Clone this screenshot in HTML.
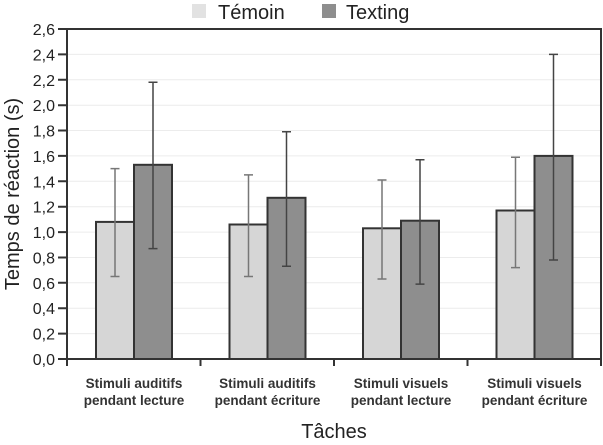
<!DOCTYPE html><html><head><meta charset="utf-8"><style>body{margin:0;background:#fff}svg{display:block;font-family:"Liberation Sans",sans-serif}</style></head><body>
<svg width="603" height="445" viewBox="0 0 603 445">
<g stroke="#ececec" stroke-width="1">
<line x1="67" x2="601" y1="54.4" y2="54.4"/><line x1="67" x2="601" y1="79.8" y2="79.8"/><line x1="67" x2="601" y1="105.2" y2="105.2"/><line x1="67" x2="601" y1="130.5" y2="130.5"/><line x1="67" x2="601" y1="155.9" y2="155.9"/><line x1="67" x2="601" y1="181.3" y2="181.3"/><line x1="67" x2="601" y1="206.7" y2="206.7"/><line x1="67" x2="601" y1="232.1" y2="232.1"/><line x1="67" x2="601" y1="257.5" y2="257.5"/><line x1="67" x2="601" y1="282.8" y2="282.8"/><line x1="67" x2="601" y1="308.2" y2="308.2"/><line x1="67" x2="601" y1="333.6" y2="333.6"/>
</g>
<g stroke="#333" stroke-width="2">
<rect x="96" y="221.9" width="38" height="137.1" fill="#d6d6d6"/><rect x="134" y="164.8" width="38" height="194.2" fill="#8e8e8e"/>
<rect x="229.5" y="224.5" width="38" height="134.5" fill="#d6d6d6"/><rect x="267.5" y="197.8" width="38" height="161.2" fill="#8e8e8e"/>
<rect x="363" y="228.3" width="38" height="130.7" fill="#d6d6d6"/><rect x="401" y="220.7" width="38" height="138.3" fill="#8e8e8e"/>
<rect x="496.5" y="210.5" width="38" height="148.5" fill="#d6d6d6"/><rect x="534.5" y="155.9" width="38" height="203.1" fill="#8e8e8e"/>
</g>
<g stroke="#777" stroke-width="1.5" fill="none">
<path d="M115 168.6V276.5M110.5 168.6h9M110.5 276.5h9"/>
<path d="M248.5 174.9V276.5M244 174.9h9M244 276.5h9"/>
<path d="M382 180V279M377.5 180h9M377.5 279h9"/>
<path d="M515.5 157.2V267.6M511 157.2h9M511 267.6h9"/>
</g>
<g stroke="#444" stroke-width="1.5" fill="none">
<path d="M153 82.3V248.6M148.5 82.3h9M148.5 248.6h9"/>
<path d="M286.5 131.8V266.3M282 131.8h9M282 266.3h9"/>
<path d="M420 159.7V284.1M415.5 159.7h9M415.5 284.1h9"/>
<path d="M553.5 54.4V260M549 54.4h9M549 260h9"/>
</g>
<path d="M67 29H601V359H67Z" fill="none" stroke="#333" stroke-width="2"/>
<g stroke="#333" stroke-width="2">
<path d="M58 29h9M58 54.4h9M58 79.8h9M58 105.2h9M58 130.5h9M58 155.9h9M58 181.3h9M58 206.7h9M58 232.1h9M58 257.5h9M58 282.8h9M58 308.2h9M58 333.6h9M58 359h9"/>
<path d="M67 359v7M200.5 359v7M334 359v7M467.5 359v7M601 359v7"/>
</g>
<g font-size="16" fill="#222" text-anchor="end">
<text x="55" y="35">2,6</text><text x="55" y="60.4">2,4</text><text x="55" y="85.8">2,2</text><text x="55" y="111.2">2,0</text><text x="55" y="136.5">1,8</text><text x="55" y="161.9">1,6</text><text x="55" y="187.3">1,4</text><text x="55" y="212.7">1,2</text><text x="55" y="238.1">1,0</text><text x="55" y="263.5">0,8</text><text x="55" y="288.8">0,6</text><text x="55" y="314.2">0,4</text><text x="55" y="339.6">0,2</text><text x="55" y="365">0,0</text>
</g>
<g font-size="13.5" font-weight="bold" fill="#333" text-anchor="middle">
<text x="134" y="388">Stimuli auditifs</text><text x="134" y="405">pendant lecture</text>
<text x="267.5" y="388">Stimuli auditifs</text><text x="267.5" y="405">pendant écriture</text>
<text x="401" y="388">Stimuli visuels</text><text x="401" y="405">pendant lecture</text>
<text x="534.5" y="388">Stimuli visuels</text><text x="534.5" y="405">pendant écriture</text>
</g>
<text x="334" y="438" font-size="20" fill="#222" text-anchor="middle">Tâches</text>
<text transform="translate(19,194) rotate(-90)" font-size="20" fill="#222" text-anchor="middle">Temps de réaction (s)</text>
<rect x="192" y="4" width="14" height="14" fill="#e2e2e2"/>
<text x="218" y="19" font-size="20" fill="#222">Témoin</text>
<rect x="322" y="4" width="14" height="14" fill="#8e8e8e"/>
<text x="346" y="19" font-size="20" fill="#222">Texting</text>
</svg>
</body></html>
